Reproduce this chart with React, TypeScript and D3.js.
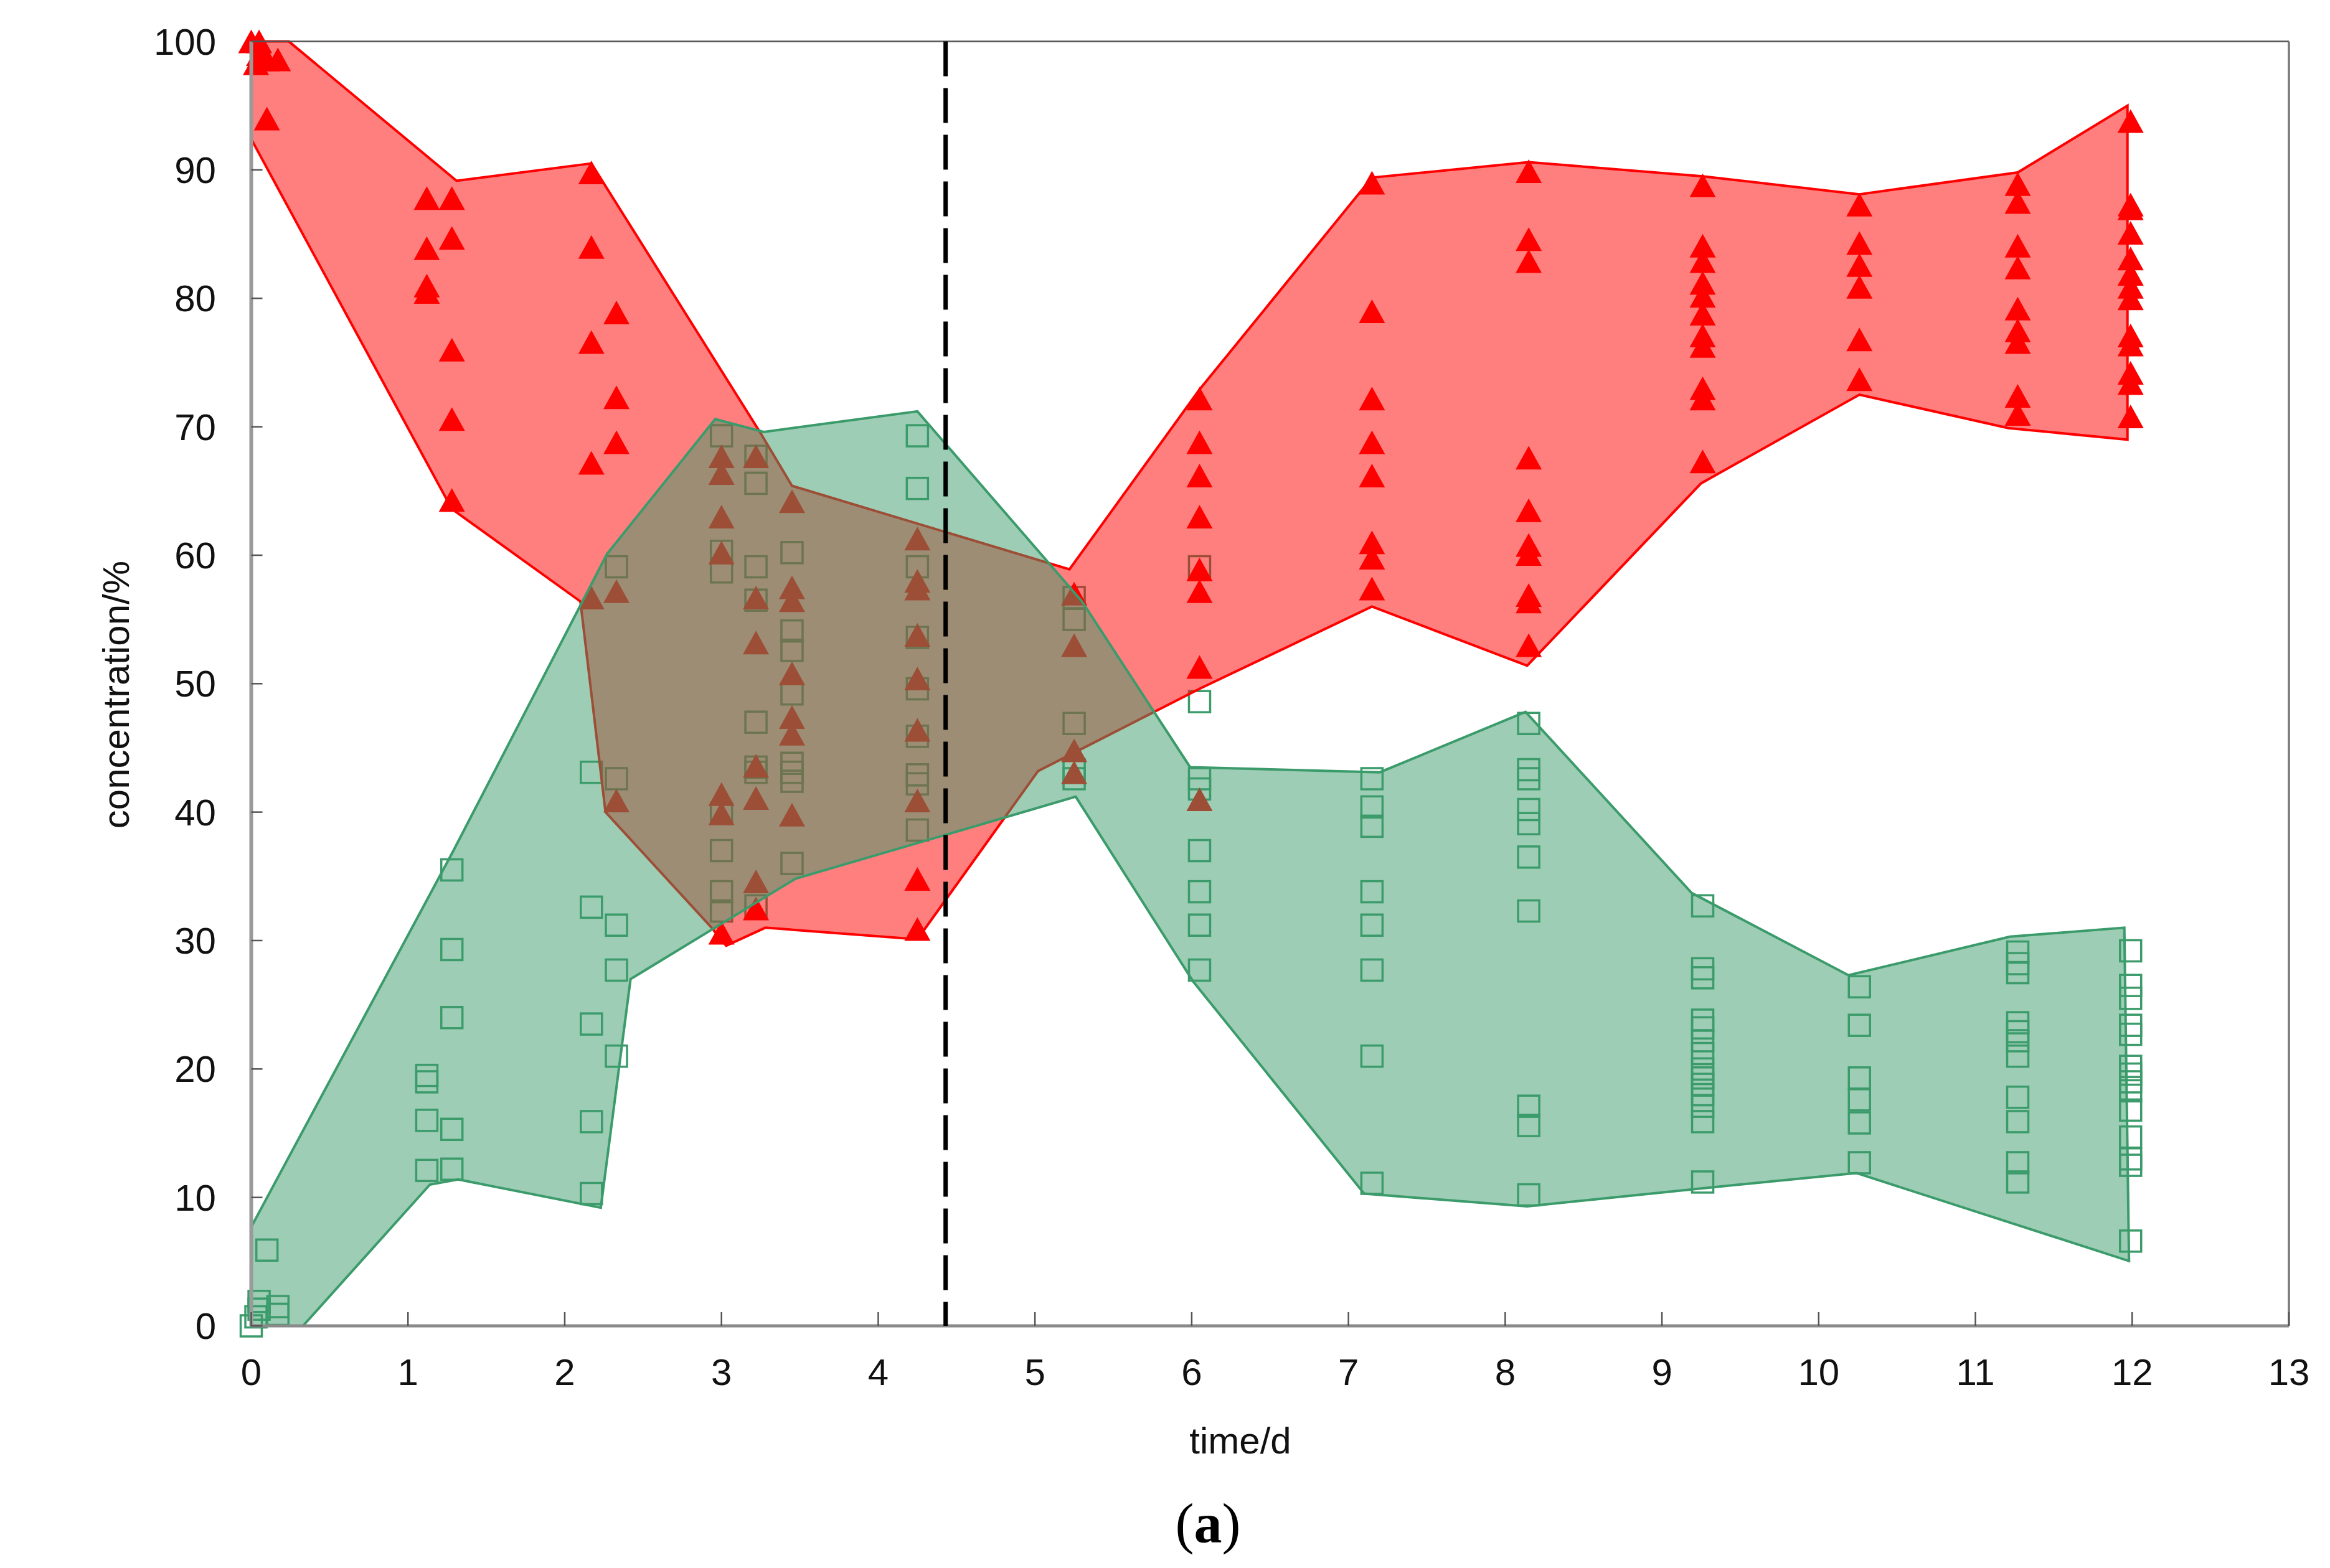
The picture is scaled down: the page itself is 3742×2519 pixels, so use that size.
import React from 'react';
import * as d3 from 'd3';

// axis ticks
const dayTicks = d3.range(0, 14);
const pctTicks = d3.range(0, 101, 10);

// envelope of the red series (upper edge left→right, lower edge right→left)
const redUpper: [number, number][] = [
  [0, 100], [0.24, 100], [1.31, 89.15], [2.17, 90.5], [3.25, 69.5], [3.45, 65.4],
  [5.22, 58.9], [6.05, 72.9], [7.15, 89.4], [8.15, 90.6], [9.26, 89.5],
  [10.26, 88.1], [11.27, 89.8], [11.97, 95.0],
];
const redLower: [number, number][] = [
  [11.97, 69.0], [11.21, 69.9], [10.26, 72.5], [9.25, 65.6], [8.14, 51.4],
  [7.15, 56.0], [6.05, 49.6], [5.02, 43.2], [4.25, 30.1], [3.28, 31.0],
  [3.03, 29.6], [2.93, 31.1], [2.26, 40.0], [2.1, 56.4], [1.28, 63.6], [0, 92.4],
];

// envelope of the green series
const greenUpper: [number, number][] = [
  [0, 7.7], [1.29, 37.0], [2.27, 60.1], [2.96, 70.6], [3.27, 69.6], [4.25, 71.2],
  [5.3, 56.4], [5.99, 43.5], [7.2, 43.1], [8.13, 47.8], [9.19, 33.7],
  [10.19, 27.3], [11.22, 30.3], [11.95, 31.0],
];
const greenLower: [number, number][] = [
  [11.98, 5.05], [10.24, 11.9], [9.25, 10.7], [8.14, 9.3], [7.1, 10.3],
  [6.01, 26.8], [5.26, 41.2], [3.47, 34.8], [2.42, 27.0], [2.23, 9.2],
  [1.32, 11.4], [1.14, 11.0], [0.33, 0], [0, 0],
];

// red triangles: sampling days and measured values
const triangleStart: [number, number][] = [
  [0, 100], [0.05, 100], [0.05, 99], [0.1, 98.6], [0.17, 98.6], [0.03, 98.3], [0.1, 94.0],
];
const triangleDays = [1.12, 1.28, 2.17, 2.33, 3.0, 3.22, 3.45, 4.25, 5.25, 6.05, 7.15, 8.15, 9.26, 10.26, 11.27, 11.99];
const triangleValues = [
  [87.8, 83.9, 81.0, 80.5],
  [87.8, 84.7, 76.0, 70.6, 64.3],
  [89.8, 84.0, 76.6, 67.2, 56.7],
  [78.9, 72.3, 68.8, 57.2, 40.9],
  [67.7, 66.4, 63.0, 60.2, 41.4, 39.9, 30.6],
  [67.7, 56.7, 53.2, 43.6, 41.1, 34.6, 32.5],
  [64.2, 57.5, 56.5, 50.8, 47.4, 46.1, 39.8],
  [61.3, 58.0, 57.4, 53.8, 50.4, 46.4, 40.9, 34.8, 30.9],
  [57.0, 53.0, 44.8, 43.1],
  [72.2, 68.8, 66.2, 63.0, 58.9, 57.2, 51.3, 41.0],
  [89.0, 79.0, 72.2, 68.8, 66.2, 61.0, 59.8, 57.4],
  [89.9, 84.6, 82.9, 67.6, 63.5, 60.8, 60.1, 56.9, 56.4, 53.0],
  [88.8, 84.1, 82.9, 81.2, 80.2, 78.8, 77.1, 76.3, 73.0, 72.2, 67.3],
  [87.3, 84.3, 82.6, 80.9, 76.8, 73.7],
  [88.9, 87.5, 84.1, 82.4, 79.2, 77.5, 76.6, 72.4, 71.0],
  [93.8, 87.3, 87.0, 85.1, 83.1, 81.9, 80.9, 80.0, 77.1, 76.4, 74.2, 73.4, 70.8],
];

// green squares
const squareStart: [number, number][] = [
  [0, 0], [0.03, 0.7], [0.05, 1.3], [0.05, 1.9], [0.17, 1.5], [0.17, 0.9], [0.1, 5.9],
];
const squareDays = [1.12, 1.28, 2.17, 2.33, 3.0, 3.22, 3.45, 4.25, 5.25, 6.05, 7.15, 8.15, 9.26, 10.26, 11.27, 11.99];
const squareValues = [
  [19.5, 19.0, 16.0, 12.1],
  [35.5, 29.3, 24.0, 15.3, 12.2],
  [43.1, 32.6, 23.5, 15.9, 10.3],
  [59.1, 42.6, 31.2, 27.7, 21.0],
  [69.3, 60.3, 58.7, 39.9, 37.0, 33.8, 32.3],
  [67.7, 65.6, 59.1, 56.5, 47.0, 43.5, 43.1, 32.7],
  [60.2, 54.1, 52.6, 49.2, 43.8, 43.1, 42.4, 36.0],
  [69.3, 65.2, 59.1, 53.6, 49.6, 45.9, 42.9, 42.2, 38.6],
  [56.7, 55.0, 46.9, 43.3, 42.6],
  [59.1, 48.6, 42.6, 41.8, 37.0, 33.8, 31.2, 27.7],
  [42.6, 40.4, 38.9, 33.8, 31.2, 27.7, 21.0, 11.1],
  [46.9, 43.3, 42.6, 40.2, 39.1, 36.5, 32.3, 17.1, 15.6, 10.2],
  [32.7, 27.8, 27.1, 23.8, 23.2, 22.2, 21.2, 20.0, 19.3, 18.8, 18.0, 17.1, 15.9, 11.2],
  [26.4, 23.4, 19.3, 17.6, 15.8, 12.7],
  [29.1, 28.2, 27.5, 23.6, 22.9, 22.2, 21.0, 17.8, 15.9, 12.7, 11.2],
  [29.2, 26.5, 25.5, 23.4, 22.7, 20.2, 19.6, 19.0, 18.3, 16.8, 14.7, 13.0, 12.5, 6.6],
];

// day at which the vertical dashed marker sits
const markerDay = 4.43;

const RED = '#ff0000';
const GREEN = '#3b9b6b';
const FONT = '"Liberation Sans", Arial, Helvetica, sans-serif';

const W = 3742;
const H = 2519;

function expand(start: [number, number][], days: number[], values: number[][]) {
  const pts = start.slice();
  days.forEach((d, i) => values[i].forEach(v => pts.push([d, v])));
  return pts;
}

export default function App() {
  const x = d3.scaleLinear().domain([0, 13]).range([403.5, 3676]);
  const y = d3.scaleLinear().domain([0, 100]).range([2130, 66.6]);

  const line = d3.line<[number, number]>()
    .x(d => x(d[0]))
    .y(d => y(d[1]));

  const redPath = line([...redUpper, ...redLower]) + 'Z';
  const greenPath = line([...greenUpper, ...greenLower]) + 'Z';

  const triangles = expand(triangleStart, triangleDays, triangleValues);
  const squares = expand(squareStart, squareDays, squareValues);

  const tri = (cx: number, cy: number) =>
    `M${cx},${cy - 19}L${cx + 21},${cy + 19}L${cx - 21},${cy + 19}Z`;

  const [x0, x1] = x.range();
  const [y0, y1] = y.range();

  return (
    <svg width={W} height={H} viewBox={`0 0 ${W} ${H}`}
      style={{ position: 'absolute', left: 0, top: 0, display: 'block', background: '#fff' }}>
      <rect width={W} height={H} fill="#fff" />

      {/* squares sit underneath both envelopes */}
      <g>
        {squares.map((d, i) => (
          <rect key={i} x={x(d[0]) - 17} y={y(d[1]) - 17} width={34} height={34}
            fill="none" stroke={GREEN} strokeWidth={3.5} />
        ))}
      </g>

      <path d={redPath} fill={RED} fillOpacity={0.5} stroke={RED} strokeWidth={4} strokeLinejoin="miter" />

      <g>
        {triangles.map((d, i) => (
          <path key={i} d={tri(x(d[0]), y(d[1]))} fill={RED} />
        ))}
      </g>

      <path d={greenPath} fill={GREEN} fillOpacity={0.5} stroke={GREEN} strokeWidth={4} />

      {/* frame */}
      <line x1={x0} x2={x1} y1={y1} y2={y1} stroke="#555" strokeWidth={2.5} />
      <line x1={x1} x2={x1} y1={y1} y2={y0} stroke="#777" strokeWidth={3.5} />
      <line x1={x0} x2={x0} y1={y1} y2={y0} stroke="#9a9a9a" strokeWidth={6} />
      <line x1={x0} x2={x1} y1={y0} y2={y0} stroke="#8a8a8a" strokeWidth={5} />

      {/* y axis */}
      <g fontFamily={FONT} fontSize={60} fill="#111">
        {pctTicks.map(t => (
          <g key={t}>
            <line x1={x0} x2={x0 + 18} y1={y(t)} y2={y(t)} stroke="#555" strokeWidth={2.5} />
            <text x={347} y={y(t)} dy="0.35em" textAnchor="end">{t}</text>
          </g>
        ))}
      </g>

      {/* x axis */}
      <g fontFamily={FONT} fontSize={60} fill="#111">
        {dayTicks.map(t => (
          <g key={t}>
            <line x1={x(t)} x2={x(t)} y1={y0} y2={y0 - 22} stroke="#555" strokeWidth={2.5} />
            <text x={x(t)} y={2225} textAnchor="middle">{t}</text>
          </g>
        ))}
      </g>

      <line x1={x(markerDay)} x2={x(markerDay)} y1={y(100)} y2={y(0)}
        stroke="#000" strokeWidth={7} strokeDasharray="56,19" />

      <text x={1992} y={2335} textAnchor="middle" fontFamily={FONT} fontSize={60} fill="#111">time/d</text>
      <text transform="translate(207,1116) rotate(-90)" textAnchor="middle"
        fontFamily={FONT} fontSize={60} fill="#111">concentration/%</text>
      <text x={1940} y={2478} textAnchor="middle"
        fontFamily='"Liberation Serif", "Times New Roman", serif' fontSize={90} fill="#000">
        (<tspan fontWeight="bold">a</tspan>)
      </text>
    </svg>
  );
}
